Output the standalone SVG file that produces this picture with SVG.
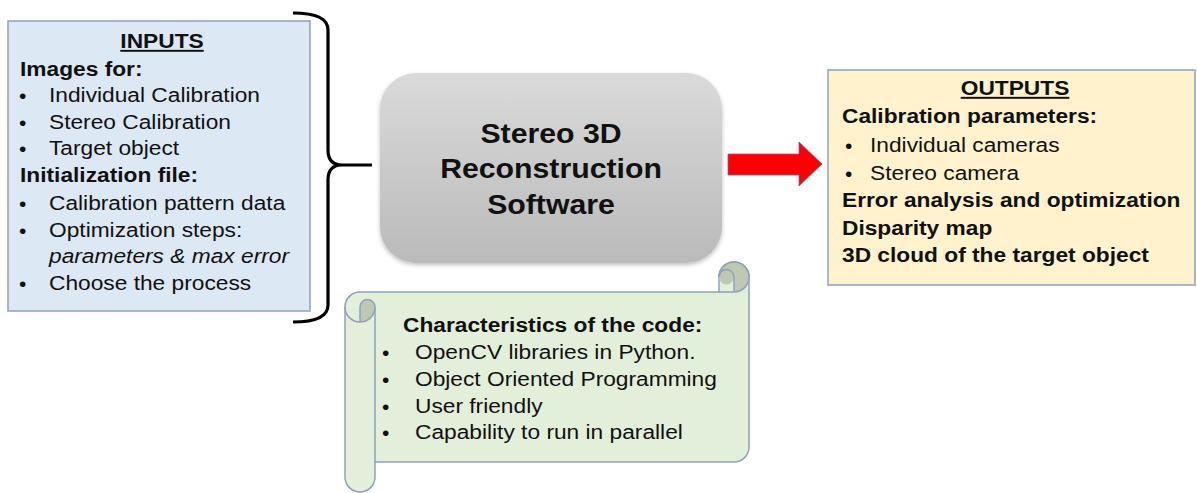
<svg xmlns="http://www.w3.org/2000/svg" width="1197" height="493" viewBox="0 0 1197 493">
  <style>
    text { font-family: "Liberation Sans", Arial, sans-serif; fill: #111; }
    .t { font-size: 19.6px; }
    .b { font-size: 19.6px; font-weight: bold; }
    .i { font-size: 19.6px; font-style: italic; }
    .u { text-decoration: underline; }
    .dot { font-size: 21px; }
    .big { font-size: 27.5px; font-weight: bold; }
    .panel { stroke: #8ea2ba; stroke-width: 1.5; }
  </style>
  <defs>
    <linearGradient id="grayFill" x1="0" y1="0" x2="0" y2="1">
      <stop offset="0" stop-color="#dadada"/>
      <stop offset="1" stop-color="#bababa"/>
    </linearGradient>
    <filter id="softShadow" x="-10%" y="-10%" width="120%" height="125%">
      <feDropShadow dx="0" dy="2" stdDeviation="2" flood-color="#000" flood-opacity="0.25"/>
    </filter>
  </defs>
  <rect width="1197" height="493" fill="#ffffff"/>

  <!-- Inputs panel -->
  <g id="inputs">
    <rect class="panel" x="8" y="21" width="302" height="290" fill="#dce8f4"/>
    <g transform="translate(162 0) scale(1.16 1)">
      <text class="b u" x="0" y="48" text-anchor="middle">INPUTS</text>
    </g>
    <g transform="translate(20 0) scale(1.16 1)">
      <text class="b" x="0" y="76">Images for:</text>
      <text class="b" x="0" y="182">Initialization file:</text>
    </g>
    <g>
      <text class="dot" x="19" y="103">•</text>
      <text class="dot" x="19" y="130">•</text>
      <text class="dot" x="19" y="156">•</text>
      <text class="dot" x="19" y="211">•</text>
      <text class="dot" x="19" y="238">•</text>
      <text class="dot" x="19" y="291">•</text>
    </g>
    <g transform="translate(49 0) scale(1.16 1)">
      <text class="t" x="0" y="102">Individual Calibration</text>
      <text class="t" x="0" y="129">Stereo Calibration</text>
      <text class="t" x="0" y="155">Target object</text>
      <text class="t" x="0" y="210">Calibration pattern data</text>
      <text class="t" x="0" y="237">Optimization steps:</text>
      <text class="i" x="0" y="263">parameters &amp; max error</text>
      <text class="t" x="0" y="290">Choose the process</text>
    </g>
  </g>

  <!-- Central software block -->
  <g id="software">
    <rect x="380" y="73" width="342" height="190" rx="36" ry="36" fill="url(#grayFill)" filter="url(#softShadow)"/>
    <g transform="translate(551 0) scale(1.1 1)">
      <text class="big" x="0" y="143" text-anchor="middle">Stereo 3D</text>
      <text class="big" x="0" y="178" text-anchor="middle">Reconstruction</text>
      <text class="big" x="0" y="214" text-anchor="middle">Software</text>
    </g>
  </g>

  <!-- Outputs panel -->
  <g id="outputs">
    <rect class="panel" x="828" y="70" width="367" height="215" fill="#fff2cc"/>
    <g transform="translate(1015 0) scale(1.16 1)">
      <text class="b u" x="0" y="95" text-anchor="middle">OUTPUTS</text>
    </g>
    <g transform="translate(842 0) scale(1.16 1)">
      <text class="b" x="0" y="123">Calibration parameters:</text>
      <text class="b" x="0" y="207">Error analysis and optimization</text>
      <text class="b" x="0" y="235">Disparity map</text>
      <text class="b" x="0" y="262">3D cloud of the target object</text>
    </g>
    <text class="dot" x="845" y="153">•</text>
    <text class="dot" x="845" y="181">•</text>
    <g transform="translate(870 0) scale(1.16 1)">
      <text class="t" x="0" y="152">Individual cameras</text>
      <text class="t" x="0" y="180">Stereo camera</text>
    </g>
  </g>

  <!-- Scroll with code characteristics -->
  <g id="characteristics">
    <g transform="translate(345 262)">
      <!-- scroll outline -->
      <path d="M 0,45 A 15 15 0 0 1 15,30 L 374,30 L 374,15 A 15 15 0 0 1 404,15 L 404,185 A 15 15 0 0 1 389,200 L 30,200 L 30,215 A 15 15 0 0 1 0,215 Z" fill="#e2efda" stroke="#8ea2ba" stroke-width="1.5"/>
      <!-- curled ends -->
      <path d="M 389,30 A 15 15 0 1 0 374,15 A 7.5 7.5 0 0 0 389,15 Z" fill="#bfc8b2"/>
      <path d="M 15,60 L 15,45 A 7.5 7.5 0 0 1 30,45 A 15 15 0 0 1 15,60 Z" fill="#bfc8b2"/>
      <g fill="none" stroke="#8ea2ba" stroke-width="1.5">
        <path d="M 374,15 A 15 15 0 0 1 404,15"/>
        <path d="M 374,30 L 389,30 A 15 15 0 0 0 404,15"/>
        <path d="M 389,30 L 389,15 A 7.5 7.5 0 0 0 374,15"/>
        <path d="M 0,45 A 15 15 0 0 0 30,45"/>
        <path d="M 15,60 L 15,45 A 7.5 7.5 0 0 1 30,45 L 30,200"/>
      </g>
    </g>
    <g transform="translate(403 0) scale(1.16 1)">
      <text class="b" x="0" y="332">Characteristics of the code:</text>
    </g>
    <g>
      <text class="dot" x="382" y="360">•</text>
      <text class="dot" x="382" y="387">•</text>
      <text class="dot" x="382" y="414">•</text>
      <text class="dot" x="382" y="440">•</text>
    </g>
    <g transform="translate(415 0) scale(1.16 1)">
      <text class="t" x="0" y="359">OpenCV libraries in Python.</text>
      <text class="t" x="0" y="386">Object Oriented Programming</text>
      <text class="t" x="0" y="413">User friendly</text>
      <text class="t" x="0" y="439">Capability to run in parallel</text>
    </g>
  </g>

  <!-- Connectors: brace gathering the inputs, arrow to the outputs -->
  <g id="connectors">
    <path d="M 293,13 Q 328,13 328,30 L 328,150 Q 328,165 342,165 L 372,165 M 342,165 Q 328,165 328,180 L 328,305 Q 328,322 293,322" fill="none" stroke="#000" stroke-width="3.2"/>
    <path d="M 728,154 L 799,154 L 799,142 L 822,164 L 799,186 L 799,175 L 728,175 Z" fill="#ff0000" stroke="#6a6a9a" stroke-width="0.8"/>
  </g>
</svg>
